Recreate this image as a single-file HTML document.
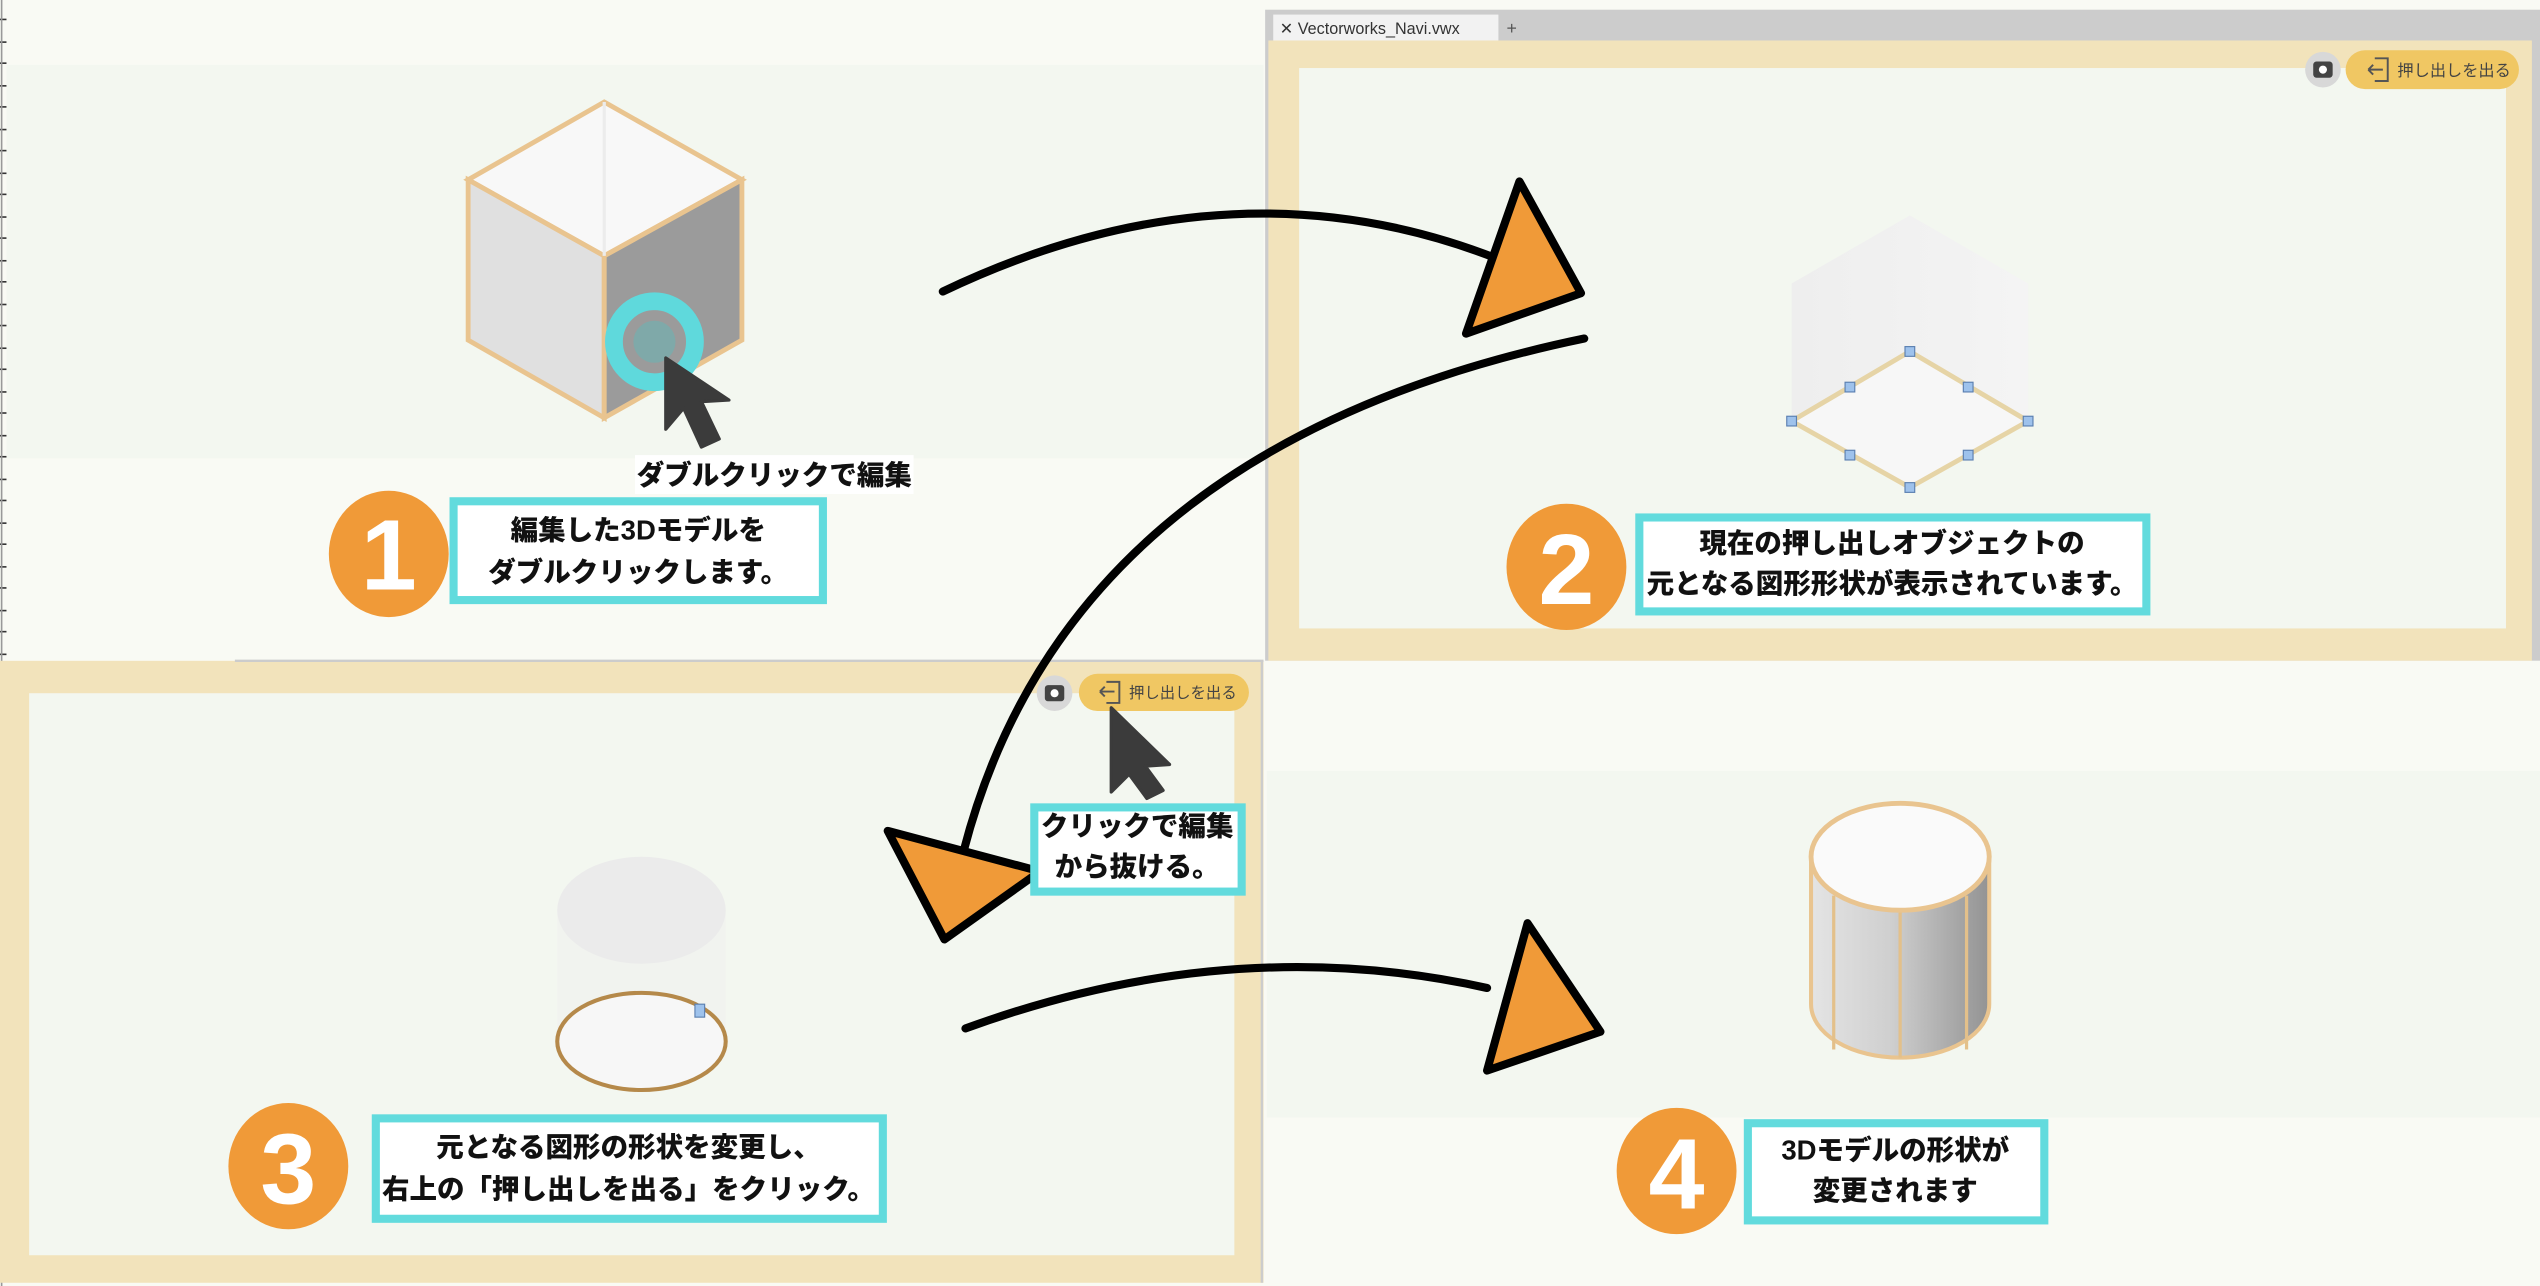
<!DOCTYPE html>
<html><head><meta charset="utf-8">
<style>
html,body{margin:0;padding:0;background:#f9faf4;}
svg{display:block;}
text{font-family:"Liberation Sans","Noto Sans CJK JP",sans-serif;}
.b{font-weight:900;font-size:17px;fill:#111;}
</style></head><body>
<svg width="2540" height="1286" viewBox="0 0 1568 794" preserveAspectRatio="none" xmlns="http://www.w3.org/2000/svg">
<defs>
<linearGradient id="cyl" x1="0" x2="1" y1="0" y2="0">
<stop offset="0" stop-color="#e4e4e4"/><stop offset="0.45" stop-color="#cfcfcf"/><stop offset="1" stop-color="#939393"/>
</linearGradient>
<linearGradient id="ghost" x1="0" x2="1"><stop offset="0" stop-color="#eeeeee"/><stop offset="1" stop-color="#f4f4f4"/></linearGradient>
</defs>
<rect width="1568" height="794" fill="#f9faf4"/>
<g stroke="#333" stroke-width="1">
<line x1="0" y1="12" x2="4" y2="12"/><line x1="0" y1="26" x2="4" y2="26"/><line x1="0" y1="39" x2="4" y2="39"/><line x1="0" y1="53" x2="4" y2="53"/><line x1="0" y1="66" x2="4" y2="66"/><line x1="0" y1="80" x2="4" y2="80"/><line x1="0" y1="93" x2="4" y2="93"/><line x1="0" y1="107" x2="4" y2="107"/><line x1="0" y1="120" x2="4" y2="120"/><line x1="0" y1="134" x2="4" y2="134"/><line x1="0" y1="147" x2="4" y2="147"/><line x1="0" y1="161" x2="4" y2="161"/><line x1="0" y1="174" x2="4" y2="174"/><line x1="0" y1="188" x2="4" y2="188"/><line x1="0" y1="201" x2="4" y2="201"/><line x1="0" y1="215" x2="4" y2="215"/><line x1="0" y1="228" x2="4" y2="228"/><line x1="0" y1="242" x2="4" y2="242"/><line x1="0" y1="255" x2="4" y2="255"/><line x1="0" y1="269" x2="4" y2="269"/><line x1="0" y1="282" x2="4" y2="282"/><line x1="0" y1="296" x2="4" y2="296"/><line x1="0" y1="309" x2="4" y2="309"/><line x1="0" y1="323" x2="4" y2="323"/><line x1="0" y1="336" x2="4" y2="336"/><line x1="0" y1="350" x2="4" y2="350"/><line x1="0" y1="363" x2="4" y2="363"/><line x1="0" y1="377" x2="4" y2="377"/><line x1="0" y1="390" x2="4" y2="390"/><line x1="0" y1="404" x2="4" y2="404"/><line x1="0" y1="417" x2="4" y2="417"/><line x1="0" y1="431" x2="4" y2="431"/><line x1="0" y1="444" x2="4" y2="444"/><line x1="0" y1="458" x2="4" y2="458"/><line x1="0" y1="471" x2="4" y2="471"/><line x1="0" y1="485" x2="4" y2="485"/><line x1="0" y1="498" x2="4" y2="498"/><line x1="0" y1="512" x2="4" y2="512"/><line x1="0" y1="525" x2="4" y2="525"/><line x1="0" y1="539" x2="4" y2="539"/><line x1="0" y1="552" x2="4" y2="552"/><line x1="0" y1="566" x2="4" y2="566"/><line x1="0" y1="579" x2="4" y2="579"/><line x1="0" y1="593" x2="4" y2="593"/><line x1="0" y1="606" x2="4" y2="606"/><line x1="0" y1="620" x2="4" y2="620"/><line x1="0" y1="633" x2="4" y2="633"/><line x1="0" y1="647" x2="4" y2="647"/><line x1="0" y1="660" x2="4" y2="660"/><line x1="0" y1="674" x2="4" y2="674"/><line x1="0" y1="687" x2="4" y2="687"/><line x1="0" y1="701" x2="4" y2="701"/><line x1="0" y1="714" x2="4" y2="714"/><line x1="0" y1="728" x2="4" y2="728"/><line x1="0" y1="741" x2="4" y2="741"/><line x1="0" y1="755" x2="4" y2="755"/><line x1="0" y1="768" x2="4" y2="768"/><line x1="0" y1="782" x2="4" y2="782"/>
</g>
<line x1="1" y1="0" x2="1" y2="794" stroke="#999" stroke-width="1"/>

<rect x="4" y="40" width="776" height="243" fill="#f3f7f0"/>

<rect x="781" y="6" width="787" height="402" fill="#cccccc"/>
<rect x="786" y="9" width="139" height="16" fill="#f2f2f2"/>
<text x="790" y="21" font-size="10" fill="#333">✕ Vectorworks_Navi.vwx</text>
<text x="930" y="21" font-size="11" fill="#555">+</text>
<rect x="783" y="25" width="780" height="383" fill="#f2e3bb"/>
<rect x="802" y="42" width="745" height="346" fill="#f3f7f0"/>
<circle cx="1434" cy="43" r="11" fill="#d8d8d8"/>
<rect x="1428" y="38" width="12" height="10" rx="2" fill="#444"/><circle cx="1434" cy="43" r="2.5" fill="#fff"/>
<rect x="1448" y="31" width="107" height="24" rx="12" fill="#f0c763"/>
<path d="M1466 36 h8 v14 h-8 M1462 43 h9 M1462 43 l3 -3 M1462 43 l3 3" fill="none" stroke="#555" stroke-width="1.2"/>
<text x="1480" y="47" font-size="10" fill="#444">押し出しを出る</text>

<rect x="0" y="408" width="780" height="384" fill="#f2e3bb"/>
<line x1="145" y1="408" x2="780" y2="408" stroke="#cccccc" stroke-width="1.5"/>
<line x1="779" y1="408" x2="779" y2="792" stroke="#cccccc" stroke-width="1.5"/>
<rect x="18" y="428" width="744" height="347" fill="#f3f7f0"/>
<circle cx="651" cy="428" r="11" fill="#d8d8d8"/>
<rect x="645" y="423" width="12" height="10" rx="2" fill="#444"/><circle cx="651" cy="428" r="2.5" fill="#fff"/>
<rect x="666" y="416" width="105" height="23" rx="11.5" fill="#f0c763"/>
<path d="M683 421 h8 v13 h-8 M679 427 h9 M679 427 l3 -3 M679 427 l3 3" fill="none" stroke="#555" stroke-width="1.2"/>
<text x="697" y="431" font-size="9.5" fill="#444">押し出しを出る</text>

<rect x="781" y="408" width="787" height="386" fill="#f9faf4"/>
<rect x="782" y="476" width="786" height="214" fill="#f3f7f0"/>

<polygon points="373,63 458,111 373,158 289,111" fill="#f8f8f8" stroke="#e9c48f" stroke-width="3"/>
<polygon points="289,111 373,158 373,258 289,210" fill="#e0e0e0" stroke="#e9c48f" stroke-width="3"/>
<polygon points="373,158 458,111 458,210 373,258" fill="#9b9b9b" stroke="#e9c48f" stroke-width="3"/>
<line x1="373" y1="63" x2="373" y2="158" stroke="#ececec" stroke-width="2"/>
<circle cx="404" cy="211" r="25" fill="none" stroke="#5fd9dc" stroke-width="11"/>
<circle cx="404" cy="211" r="13" fill="#7fa9a9"/>
<path d="M411 221 L411 265 L422 252 L433 276 L444 271 L433 248 L450 247 Z" fill="#3b3b3b" stroke="#3b3b3b" stroke-width="2" stroke-linejoin="round"/>
<rect x="392" y="281" width="172" height="24" fill="#fff"/>
<text x="478" y="299" text-anchor="middle" class="b">ダブルクリックで編集</text>

<polygon points="1179,133 1252,175 1252,260 1179,301 1106,260 1106,175" fill="url(#ghost)"/>
<polygon points="1179,217 1252,260 1179,301 1106,260" fill="#f7f7f7" stroke="#e6d4a6" stroke-width="3"/>
<g fill="#9ec2ec" stroke="#5a7fb0" stroke-width="0.7">
<rect x="1176" y="214" width="6" height="6"/><rect x="1249" y="257" width="6" height="6"/><rect x="1176" y="298" width="6" height="6"/><rect x="1103" y="257" width="6" height="6"/>
<rect x="1212" y="236" width="6" height="6"/><rect x="1212" y="278" width="6" height="6"/><rect x="1139" y="278" width="6" height="6"/><rect x="1139" y="236" width="6" height="6"/>
</g>

<rect x="344" y="562" width="104" height="81" fill="#f1f3ef"/>
<ellipse cx="396" cy="562" rx="52" ry="33" fill="#ebebeb"/>
<ellipse cx="396" cy="643" rx="52" ry="30" fill="#f7f7f7" stroke="#b5894a" stroke-width="2.5"/>
<rect x="429" y="620" width="6" height="8" fill="#9ec2ec" stroke="#5a7fb0" stroke-width="0.7"/>

<path d="M1118 530 L1118 620 A55 33 0 0 0 1228 620 L1228 530 Z" fill="url(#cyl)" stroke="#e9c48f" stroke-width="2.5"/>
<line x1="1132" y1="553" x2="1132" y2="648" stroke="#e3c08a" stroke-width="2"/>
<line x1="1173" y1="560" x2="1173" y2="653" stroke="#e3c08a" stroke-width="2"/>
<line x1="1214" y1="553" x2="1214" y2="648" stroke="#e3c08a" stroke-width="2"/>
<ellipse cx="1173" cy="529" rx="55" ry="33" fill="#fafafa" stroke="#e9c48f" stroke-width="3"/>

<g stroke="#000" stroke-width="5" fill="none" stroke-linecap="round">
<path d="M582 180 Q760 95 925 160"/>
<path d="M978 209 Q660 275 595 525"/>
<path d="M596 635 Q760 575 918 610"/>
</g>
<g fill="#f09a38" stroke="#000" stroke-width="5" stroke-linejoin="round">
<polygon points="938,112 976,181 905,206"/>
<polygon points="548,513 642,538 583,580"/>
<polygon points="943,570 988,637 918,661"/>
</g>

<path d="M686 437 L686 489 L697 478 L708 493 L718 488 L707 473 L722 472 Z" fill="#3b3b3b" stroke="#3b3b3b" stroke-width="2" stroke-linejoin="round"/>
<rect x="638.5" y="498.5" width="128" height="52" fill="#fff" stroke="#62dbdd" stroke-width="5"/>
<text x="702" y="516" text-anchor="middle" class="b" font-size="16">クリックで編集</text>
<text x="702" y="541" text-anchor="middle" class="b" font-size="16">から抜ける。</text>

<g fill="#f09a38">
<ellipse cx="240" cy="342" rx="37" ry="39"/>
<ellipse cx="967" cy="350" rx="37" ry="39"/>
<ellipse cx="178" cy="720" rx="37" ry="39"/>
<ellipse cx="1035" cy="723" rx="37" ry="39"/>
</g>
<g fill="#fff" font-weight="900" text-anchor="middle" font-size="62">
<text x="240" y="364">1</text>
<text x="967" y="373">2</text>
<text x="178" y="743">3</text>
<text x="1035" y="746">4</text>
</g>
<g fill="#fff" stroke="#62dbdd" stroke-width="5">
<rect x="280" y="309.5" width="228" height="61"/>
<rect x="1012" y="319.5" width="313" height="58"/>
<rect x="232" y="690.5" width="313" height="62"/>
<rect x="1079" y="693.5" width="183" height="60"/>
</g>
<text x="394" y="333" text-anchor="middle" class="b">編集した3Dモデルを</text>
<text x="394" y="359" text-anchor="middle" class="b">ダブルクリックします。</text>
<text x="1168" y="341" text-anchor="middle" class="b">現在の押し出しオブジェクトの</text>
<text x="1168" y="366" text-anchor="middle" class="b">元となる図形形状が表示されています。</text>
<text x="388" y="714" text-anchor="middle" class="b">元となる図形の形状を変更し、</text>
<text x="388" y="740" text-anchor="middle" class="b">右上の「押し出しを出る」をクリック。</text>
<text x="1170" y="716" text-anchor="middle" class="b">3Dモデルの形状が</text>
<text x="1170" y="741" text-anchor="middle" class="b">変更されます</text>
</svg>
</body></html>
